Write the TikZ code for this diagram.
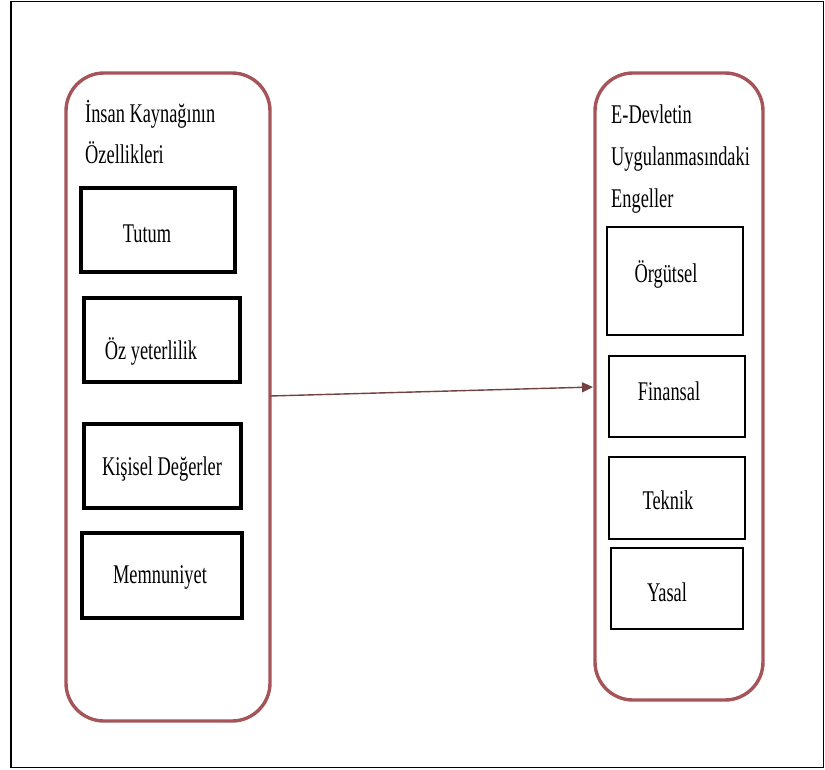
\documentclass[tikz,border=0pt]{standalone}
\usepackage{fontspec}
\setmainfont{Liberation Serif}[FakeStretch=0.68]
\usetikzlibrary{arrows.meta}
\definecolor{roundc}{RGB}{165,85,90}
\definecolor{arrc}{RGB}{115,65,65}
\tikzset{
  outer/.style={draw=roundc, line width=3.4pt, rounded corners=38pt},
  thickbox/.style={draw=black, line width=4.2pt, inner sep=0pt},
  thinbox/.style={draw=black, line width=1.5pt, inner sep=0pt},
  lbl/.style={anchor=base, inner sep=0pt, font=\fontsize{27}{32}\selectfont},
  ttl/.style={anchor=base west, inner sep=0pt, font=\fontsize{27}{32}\selectfont},
  arr/.style={draw=arrc, line width=1.4pt, -{Triangle[length=11pt,width=10pt]}}
}
\begin{document}
\begin{tikzpicture}[x=1pt,y=-1pt]
\useasboundingbox (0,0) rectangle (825,769);
% frame
\draw[line width=1.5pt] (11,1.5) rectangle (823.5,767.5);
% rounded containers
\draw[outer] (66,73) rectangle (270,721);
\draw[outer] (595,73) rectangle (763,700);
\coordinate (Lbox) at (270,396);
\coordinate (Rbox) at (593,387);
% left title
\node[ttl] (lt1) at (85,122) {İnsan Kaynağının};
\node[ttl] (lt2) at (85,163) {Özellikleri};
% left inner boxes
\node[thickbox, minimum width=154pt, minimum height=84pt] (b1) at (158,230) {};
\node[thickbox, minimum width=156pt, minimum height=84pt] (b2) at (162,340) {};
\node[thickbox, minimum width=157pt, minimum height=84pt] (b3) at (162.5,466) {};
\node[thickbox, minimum width=160pt, minimum height=85pt] (b4) at (162,575.5) {};
\node[lbl] (t1) at (147,242) {Tutum};
\node[lbl] (t2) at (151,359) {Öz yeterlilik};
\node[lbl] (t3) at (162,475) {Kişisel Değerler};
\node[lbl] (t4) at (160,583) {Memnuniyet};
% right title
\node[ttl] (rt1) at (611,123) {E-Devletin};
\node[ttl] (rt2) at (611,165) {Uygulanmasındaki};
\node[ttl] (rt3) at (611,207) {Engeller};
% right inner boxes
\node[thinbox, minimum width=136pt, minimum height=108pt] (c1) at (675,281) {};
\node[thinbox, minimum width=136pt, minimum height=81pt] (c2) at (677,396.5) {};
\node[thinbox, minimum width=136pt, minimum height=82pt] (c3) at (677,498) {};
\node[thinbox, minimum width=132pt, minimum height=81pt] (c4) at (677,588.5) {};
\node[lbl] (u1) at (666,282) {Örgütsel};
\node[lbl] (u2) at (669,400) {Finansal};
\node[lbl] (u3) at (668,509) {Teknik};
\node[lbl] (u4) at (667,601) {Yasal};
% connector
\draw[arr] (Lbox) -- (Rbox);
\end{tikzpicture}
\end{document}
